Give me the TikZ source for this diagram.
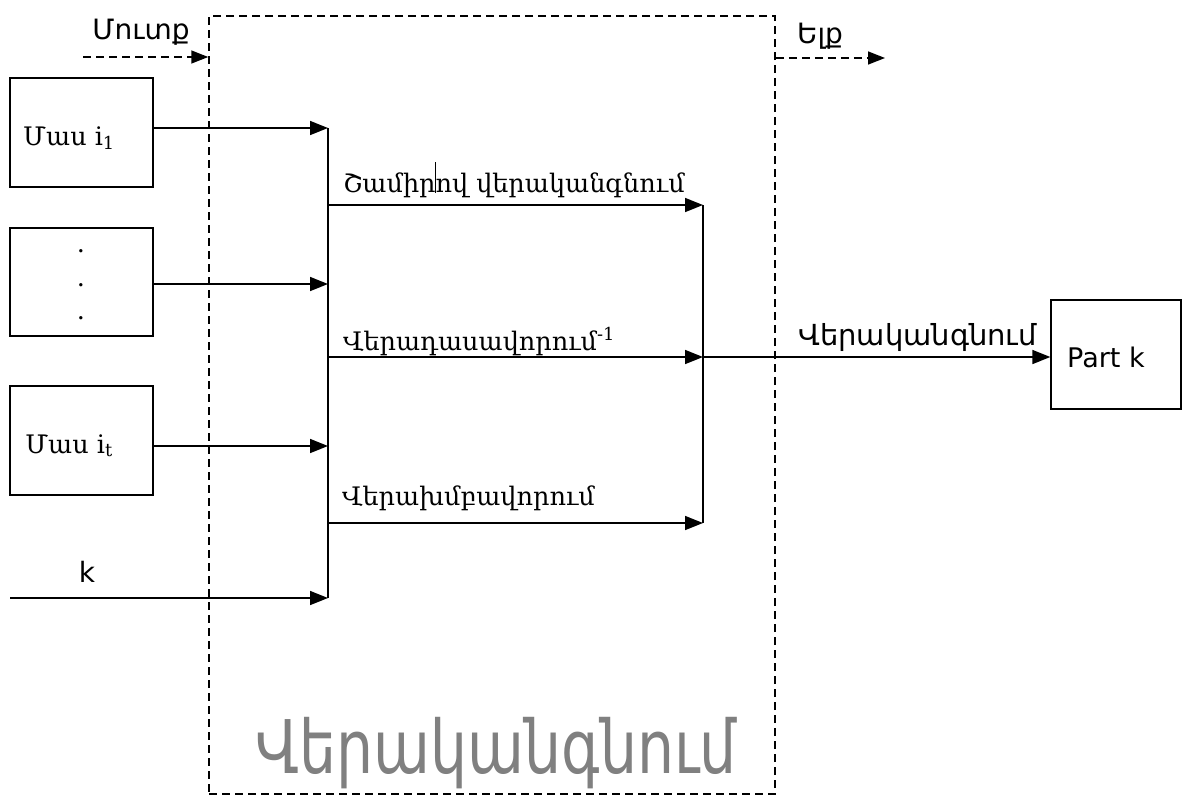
\documentclass[tikz,border=0pt]{standalone}
\usepackage{fontspec}
\usepackage{graphicx}
\usetikzlibrary{arrows.meta}
\newfontfamily\armsans{DejaVu Sans}
\newfontfamily\armserif{DejaVu Serif}
\definecolor{biggray}{RGB}{128,128,128}
\tikzset{
  box/.style={draw, line width=1.3pt, minimum width=143pt, minimum height=109pt, inner sep=0pt},
  arr/.style={line width=1.6pt, -{Triangle[length=18pt,width=14pt]}},
  bus/.style={line width=1.6pt},
  dsh/.style={line width=1.5pt, dash pattern=on 8pt off 5pt},
  serlbl/.style={font=\armserif\fontsize{25.5pt}{28pt}\selectfont, inner sep=0pt, anchor=base},
  sanlbl/.style={font=\armsans\fontsize{28pt}{30pt}\selectfont, inner sep=0pt, anchor=base},
}
\begin{document}
\begin{tikzpicture}[x=1pt,y=-1pt]
\useasboundingbox (0,0) rectangle (1184,796);
% dashed block
\node[draw, dsh, minimum width=566pt, minimum height=778pt, inner sep=0pt] (blk) at (492,405) {};
\node[font=\armsans\fontsize{74pt}{76pt}\selectfont, text=biggray, inner sep=0pt, anchor=base] (big) at (496,773) {\scalebox{0.79}[1]{Վերականգնում}};
% input/output dashed arrows
\coordinate (inS) at (83,57);
\coordinate (outE) at (885,58);
\draw[dsh, -{Triangle[length=17pt,width=13pt]}] (inS) -- (inS -| blk.west);
\draw[dsh, -{Triangle[length=17pt,width=13pt]}] (outE -| blk.east) -- (outE);
\node[sanlbl] (mutq) at (141,39) {Մուտք};
\node[sanlbl] (elq) at (820,43) {Ելք};
% left boxes
\node[box] (b1) at (81.5,132.5) {};
\node[serlbl] (t1) at (69,145) {Մաս i\textsubscript{1}};
\node[box, minimum height=108pt] (b2) at (81.5,282) {};
\node[serlbl] (d1) at (81,252) {.};
\node[serlbl] (d2) at (81,286) {.};
\node[serlbl] (d3) at (81,319) {.};
\node[box] (b3) at (81.5,440.5) {};
\node[serlbl] (t3) at (69,453) {Մաս i\textsubscript{t}};
\node[sanlbl] (klbl) at (87,582) {k};
% bus coordinates
\coordinate (j1) at (328,128);
\coordinate (j2) at (328,284);
\coordinate (j3) at (328,446);
\coordinate (j4) at (328,598);
\coordinate (kin) at (10,598);
\draw[arr] (b1.east |- j1) -- (j1);
\draw[arr] (b2.east |- j2) -- (j2);
\draw[arr] (b3.east |- j3) -- (j3);
\draw[arr] (kin) -- (j4);
\draw[bus] (j1) -- (j4);
% middle branches
\coordinate (m1) at (328,205);
\coordinate (m2) at (328,357);
\coordinate (m3) at (328,523);
\coordinate (r1) at (703,205);
\coordinate (r2) at (703,357);
\coordinate (r3) at (703,523);
\draw[arr] (m1) -- (r1);
\draw[arr] (m2) -- (r2);
\draw[arr] (m3) -- (r3);
\draw[bus] (r1) -- (r3);
\node[serlbl, anchor=base west] (l1) at (343,192) {Շամիր\makebox[0pt]{\rule[-1pt]{1.2pt}{31pt}}ով վերականգնում};
\node[serlbl, anchor=base west] (l2) at (343,350) {Վերադասավորում\textsuperscript{-1}};
\node[serlbl, anchor=base west] (l3) at (342,505) {Վերախմբավորում};
% output
\node[draw, line width=1.3pt, minimum width=130pt, minimum height=109pt, inner sep=0pt] (pk) at (1116,354.5) {};
\node[sanlbl, anchor=base west, font=\armsans\fontsize{27pt}{30pt}\selectfont] (pkt) at (1067,367) {Part k};
\draw[arr] (r2) -- (r2 -| pk.west);
\node[sanlbl, anchor=base west, font=\armsans\fontsize{29pt}{30pt}\selectfont] (vl) at (798,345) {Վերականգնում};
\end{tikzpicture}
\end{document}
